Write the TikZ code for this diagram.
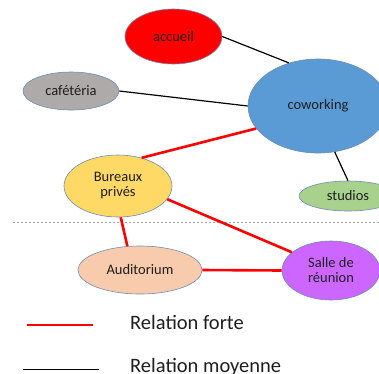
\documentclass[tikz,border=0pt]{standalone}
\usepackage{fontspec}
\setmainfont{Carlito}
\usepackage{tikz}
\usepackage{xcolor}
\usetikzlibrary{shapes.geometric}
\definecolor{rlred}{RGB}{255,0,0}
\definecolor{rlgray}{RGB}{174,170,170}
\definecolor{rlblue}{RGB}{91,155,213}
\definecolor{rlyellow}{RGB}{255,217,102}
\definecolor{rlgreen}{RGB}{169,209,142}
\definecolor{rlpeach}{RGB}{248,203,173}
\definecolor{rlpurple}{RGB}{204,102,255}
\definecolor{rledge}{RGB}{110,140,175}
\definecolor{rltext}{RGB}{30,30,30}
\tikzset{
  rlbubble/.style={ellipse, draw=rledge, line width=.6pt, inner sep=0pt, align=center,
    text=rltext, font=\fontsize{14.5}{15}\selectfont},
  rlstrong/.style={draw=rlred, line width=2.6pt},
  rlmedium/.style={draw=black, line width=1.2pt},
  rlsep/.style={draw=black!35, line width=.6pt, dash pattern=on 2pt off 2pt},
  rllegend/.style={anchor=base west, inner sep=0pt, text=rltext, font=\fontsize{20.5}{22}\selectfont}
}

\begin{document}
\begin{tikzpicture}[x=1pt, y=-1pt]
  \useasboundingbox (0,0) rectangle (379,373);
  \clip (0,0) rectangle (379,373);
  % separator
  \draw[rlsep] (13,222) -- (379,222);
  % spaces
  \node[rlbubble, fill=rlred, minimum width=97pt, minimum height=55pt] (accueil) at (173.5,36.5) {accueil};
  \node[rlbubble, fill=rlgray, minimum width=96pt, minimum height=38pt] (cafe) at (71,91) {cafétéria};
  \node[rlbubble, fill=rlblue, minimum width=140pt, minimum height=94pt] (cowork) at (318,106) {coworking};
  \node[rlbubble, fill=rlyellow, minimum width=108pt, minimum height=62pt] (bureaux) at (118,186) {Bureaux\\privés};
  \node[rlbubble, fill=rlgreen, minimum width=98pt, minimum height=30pt] (studios) at (348,196) {studios};
  \node[rlbubble, fill=rlpeach, minimum width=124pt, minimum height=48pt] (audit) at (140,270) {Auditorium};
  \node[rlbubble, fill=rlpurple, minimum width=98pt, minimum height=59pt] (salle) at (331,270.5) {Salle de\\réunion};
  % relations
  \draw[rlmedium] (accueil.east) -- (cowork.124);
  \draw[rlmedium] (cafe.east) -- (cowork.west);
  \draw[rlmedium] (cowork.-70) -- (studios.north);
  \draw[rlstrong] (cowork.200) -- (bureaux.50);
  \draw[rlstrong] (bureaux.-15) -- (salle.155);
  \draw[rlstrong] (bureaux.-85) -- (audit.118);
  \draw[rlstrong] (audit.east) -- (salle.west);
  % legend
  \coordinate (fa) at (27,325);
  \coordinate (fb) at (93,325);
  \coordinate (ma) at (23,369);
  \coordinate (mb) at (99,369);
  \draw[rlstrong] (fa) -- (fb);
  \draw[draw=black, line width=.8pt] (ma) -- (mb);
  \node[rllegend] (forte) at (130,329) {Relation forte};
  \node[rllegend] (moyenne) at (130,372) {Relation moyenne};
\end{tikzpicture}
\end{document}
